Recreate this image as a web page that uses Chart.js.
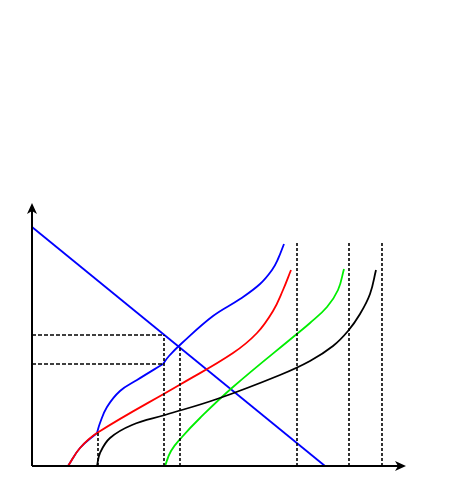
<!DOCTYPE html>
<html>
<head>
<meta charset="utf-8">
<script src="https://cdn.jsdelivr.net/npm/chart.js@4/dist/chart.umd.min.js"></script>
<style>
  html, body { margin: 0; padding: 0; background: #fff; }
  #grafico { display: block; }
</style>
</head>
<body>
<canvas id="grafico" width="474" height="491"></canvas>
<script>
// extensión de los ejes (unidades arbitrarias)
const ejeX = [0, 374];
const ejeY = [0, 263];

// demanda (recta)
const demandaX = [0, 293];
const demandaY = [239, 0];

// oferta roja
const rojaX = [36, 48, 65, 149, 201, 225, 241, 251, 259];
const rojaY = [0, 18, 33, 82, 113, 133, 155, 176, 196];

// oferta azul: tramo común con la roja, tramo hasta el quiebre y tramo final
const azulAX = [36, 48, 65];
const azulAY = [0, 18, 33];
const azulBX = [65, 68, 75, 88, 105, 131];
const azulBY = [33, 43, 59, 75, 86, 102];
const azulCX = [131, 137, 150, 181, 208, 228, 240, 246, 252];
const azulCY = [102, 110, 123, 150, 167, 182, 196, 207, 222];

// oferta negra
const negraX = [65, 68, 78, 100, 133, 185, 248, 278, 301, 316, 328, 338, 344];
const negraY = [0, 13, 28, 41, 51, 67, 91, 105, 120, 135, 152, 172, 196];

// oferta verde
const verdeX = [133, 139, 150, 168, 201, 266, 278, 295, 306, 312];
const verdeY = [0, 15, 29, 48, 79, 133, 143, 159, 176, 197];

// líneas punteadas horizontales: altura y extremo derecho
const punteadaH = [131, 102];
const punteadaHFin = [132, 132];
// líneas punteadas verticales: posición y altura
const punteadaV = [66, 132, 148, 265, 317, 350];
const punteadaVAlto = [33, 131, 119, 223, 223, 223];

function unir(xs, ys) {
  return xs.map((x, i) => ({ x: x, y: ys[i] }));
}

const datasets = [];

// punteadas primero (quedan detrás)
punteadaH.forEach((y, i) => {
  datasets.push({
    data: [{ x: 0, y: y }, { x: punteadaHFin[i], y: y }],
    borderColor: '#000', borderWidth: 1.6, borderDash: [4, 2],
    pointRadius: 0, tension: 0, clip: false
  });
});
punteadaV.forEach((x, i) => {
  datasets.push({
    data: [{ x: x, y: 0 }, { x: x, y: punteadaVAlto[i] }],
    borderColor: '#000', borderWidth: 1.6, borderDash: [3, 2],
    pointRadius: 0, tension: 0, clip: false
  });
});

const curvas = [
  [negraX, negraY, '#000000'],
  [verdeX, verdeY, '#00ee00'],
  [rojaX, rojaY, '#ff0000'],
  [azulAX, azulAY, '#0000ff'],
  [azulBX, azulBY, '#0000ff'],
  [azulCX, azulCY, '#0000ff']
];
curvas.forEach(c => {
  datasets.push({
    data: unir(c[0], c[1]),
    borderColor: c[2], borderWidth: 1.8,
    pointRadius: 0, tension: 0.4, clip: false
  });
});

datasets.push({
  data: unir(demandaX, demandaY),
  borderColor: '#0000ff', borderWidth: 1.8,
  pointRadius: 0, tension: 0, clip: false
});

// ejes con flechas
const ejesPlugin = {
  id: 'ejes',
  afterDatasetsDraw(chart) {
    const ctx = chart.ctx;
    const sx = chart.scales.x, sy = chart.scales.y;
    const x0 = sx.getPixelForValue(ejeX[0]);
    const x1 = sx.getPixelForValue(ejeX[1]);
    const y0 = sy.getPixelForValue(ejeY[0]);
    const y1 = sy.getPixelForValue(ejeY[1]);
    ctx.save();
    ctx.strokeStyle = '#000';
    ctx.fillStyle = '#000';
    ctx.lineWidth = 2;
    ctx.beginPath();
    ctx.moveTo(x0, y0); ctx.lineTo(x1 - 6, y0);
    ctx.moveTo(x0, y0); ctx.lineTo(x0, y1 + 6);
    ctx.stroke();
    // flecha x
    ctx.beginPath();
    ctx.moveTo(x1, y0);
    ctx.lineTo(x1 - 11, y0 - 5);
    ctx.lineTo(x1 - 8, y0);
    ctx.lineTo(x1 - 11, y0 + 5);
    ctx.closePath();
    ctx.fill();
    // flecha y
    ctx.beginPath();
    ctx.moveTo(x0, y1);
    ctx.lineTo(x0 - 5, y1 + 11);
    ctx.lineTo(x0, y1 + 8);
    ctx.lineTo(x0 + 5, y1 + 11);
    ctx.closePath();
    ctx.fill();
    ctx.restore();
  }
};

new Chart(document.getElementById('grafico'), {
  type: 'line',
  data: { datasets: datasets },
  options: {
    responsive: false,
    animation: false,
    layout: { padding: { left: 32, top: 203, right: 68, bottom: 25 } },
    plugins: { legend: { display: false }, tooltip: { enabled: false } },
    scales: {
      x: { type: 'linear', min: ejeX[0], max: ejeX[1], display: false },
      y: { type: 'linear', min: ejeY[0], max: ejeY[1], display: false }
    }
  },
  plugins: [ejesPlugin]
});
</script>
</body>
</html>
